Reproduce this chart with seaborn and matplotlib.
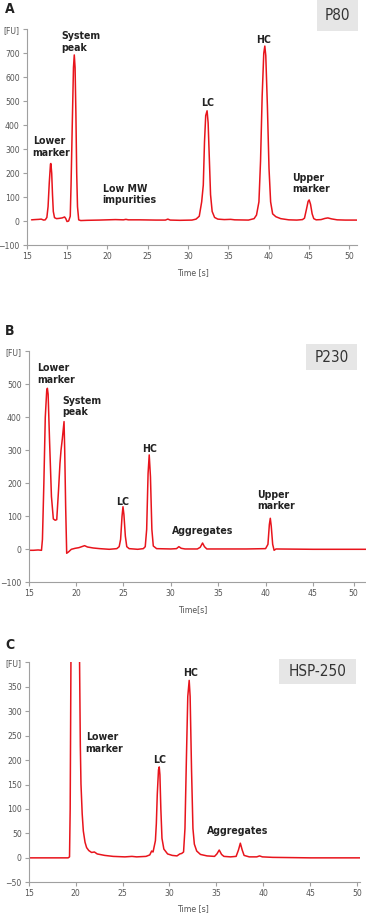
import numpy as np
import pandas as pd
import seaborn as sns
import matplotlib.pyplot as plt
from matplotlib.patches import Rectangle

sns.set_style("ticks")
plt.rcParams['font.family'] = ['DejaVu Sans']
plt.rcParams['font.stretch'] = 'condensed'

RED = "#e8141c"
GREY_TXT = "#555555"
SPINE = "#a0a0a0"

# ---- Panel A (P80) trace ----
time_a = [10.6, 11.0, 11.5, 11.8, 12.1, 12.3, 12.5, 12.65, 12.8, 12.95, 13.0, 13.1, 13.2, 13.3, 13.45,
          13.7, 14.0, 14.4, 14.7, 14.85, 15.0, 15.2, 15.4, 15.5, 15.65, 15.8, 15.9, 16.0, 16.1, 16.2,
          16.3, 16.45, 16.7, 17.5, 19.0, 20.0, 21.0, 22.0, 22.3, 22.6, 24.0, 26.0, 27.2, 27.5, 27.8,
          29.0, 30.5, 31.0, 31.4, 31.7, 31.9, 32.05, 32.2, 32.37, 32.5, 32.65, 32.8, 33.0, 33.3, 33.7,
          34.5, 35.3, 35.8, 37.5, 38.2, 38.5, 38.8, 39.0, 39.2, 39.4, 39.53, 39.65, 39.85, 40.05, 40.25,
          40.5, 40.9, 41.5, 42.5, 43.5, 44.2, 44.45, 44.7, 44.9, 45.03, 45.2, 45.4, 45.6, 45.9, 46.5,
          47.0, 47.35, 47.8, 48.5, 49.5, 51.0]
fu_a = [5, 6, 7, 8, 4, 5, 15, 60, 160, 238, 240, 200, 110, 40, 14,
        10, 11, 13, 17, 10, -2, 0, 20, 150, 400, 640, 693, 640, 450, 200,
        60, 5, 2, 3, 4, 5, 6, 5, 7, 5, 5, 4, 4, 8, 4,
        3, 4, 8, 20, 80, 150, 330, 440, 460, 410, 260, 110, 40, 15, 8,
        6, 7, 5, 4, 10, 25, 80, 250, 520, 700, 730, 690, 480, 220, 80,
        30, 18, 10, 5, 4, 6, 12, 50, 82, 88, 70, 30, 10, 5, 6,
        11, 13, 9, 5, 4, 4]

# ---- Panel B (P230) ----
time_b = [15.0, 15.5, 16.0, 16.35, 16.45, 16.6, 16.75, 16.9, 16.97, 17.05, 17.2, 17.4, 17.6, 17.8,
          17.96, 18.15, 18.3, 18.41, 18.55, 18.73, 18.8, 18.9, 19.01, 19.2, 19.5, 19.9, 20.3, 20.6,
          20.9, 21.2, 21.8, 22.5, 23.5, 24.3, 24.55, 24.7, 24.85, 24.95, 25.05, 25.2, 25.35, 25.6,
          26.5, 27.1, 27.3, 27.45, 27.6, 27.72, 27.85, 28.0, 28.15, 28.5, 30.0, 30.6, 30.85, 31.1,
          31.5, 32.8, 33.1, 33.35, 33.55, 33.8, 35.0, 38.0, 40.0, 40.25, 40.4, 40.5, 40.6, 40.75,
          40.9, 41.1, 45.0, 50.6]
fu_b = [-3, -3, -2, -3, 30, 200, 400, 480, 488, 470, 330, 160, 92, 88,
        90, 180, 260, 300, 335, 387, 300, 130, -12, -8, 0, 3, 5, 8,
        11, 7, 4, 2, 0, 2, 8, 30, 100, 129, 105, 40, 8, 2,
        0, 2, 8, 60, 230, 286, 220, 60, 10, 2, 1, 2, 8, 3,
        1, 1, 6, 19, 8, 1, 1, 1, 2, 15, 75, 94, 70, 15,
        -3, 1, 0, 0]

# ---- Panel C (HSP-250); lower marker runs off scale ----
time_c = [15.0, 19.2, 19.35, 19.42, 19.5, 19.6, 19.95, 20.3, 20.42, 20.5, 20.57, 20.7, 20.82, 21.0,
          21.17, 21.4, 21.7, 22.0, 22.3, 23.1, 24.0, 25.25, 26.0, 26.5, 27.5, 27.9, 28.1, 28.25,
          28.5, 28.6, 28.7, 28.83, 28.91, 28.98, 29.08, 29.2, 29.4, 29.8, 30.3, 30.8, 31.1, 31.3,
          31.5, 31.65, 31.8, 31.95, 32.1, 32.2, 32.35, 32.5, 32.65, 32.9, 33.3, 34.0, 34.8, 35.05,
          35.3, 35.55, 35.8, 36.5, 37.1, 37.35, 37.55, 37.75, 37.95, 38.5, 39.3, 39.6, 39.9, 41.0,
          45.0, 50.3]
fu_c = [0, 0, 2, 100, 400, 900, 1500, 900, 400, 230, 151, 90, 55, 32,
        21, 15, 11, 12, 8, 5, 3, 2, 3, 2, 3, 6, 14, 12,
        35, 70, 130, 180, 186, 170, 100, 40, 18, 8, 5, 4, 8, 9,
        12, 60, 200, 330, 363, 330, 180, 60, 28, 14, 7, 4, 3, 8,
        16, 7, 3, 2, 3, 16, 30, 16, 5, 2, 2, 4, 2, 1,
        0, 0]

# x ticks / labels as printed on each panel
xticks_a = [10, 15, 20, 25, 30, 35, 40, 45, 50]
xlabels_a = ["15", "15", "20", "25", "30", "35", "40", "45", "50"]
xticks_b = [15, 20, 25, 30, 35, 40, 45, 49.3]
xlabels_b = ["15", "20", "25", "30", "35", "40", "45", "50"]
xticks_c = [15, 20, 25, 30, 35, 40, 45, 50]
xlabels_c = ["15", "20", "25", "30", "35", "40", "45", "50"]

yticks_a = [-100, 0, 100, 200, 300, 400, 500, 600, 700, 800]
yticks_b = [-100, 0, 100, 200, 300, 400, 500, 600]
yticks_c = [-50, 0, 50, 100, 150, 200, 250, 300, 350, 400]

labels_a = [("Lower\nmarker", 10.74, 355), ("System\npeak", 14.34, 793), ("Low MW\nimpurities", 19.43, 155),
            ("LC", 31.6, 515), ("HC", 38.5, 776), ("Upper\nmarker", 42.95, 202)]
labels_b = [("Lower\nmarker", 15.91, 564), ("System\npeak", 18.59, 465), ("LC", 24.22, 159),
            ("HC", 26.93, 319), ("Aggregates", 30.13, 71), ("Upper\nmarker", 39.14, 180)]
labels_c = [("Lower\nmarker", 21.07, 257), ("LC", 28.27, 211), ("HC", 31.46, 388), ("Aggregates", 34.02, 65)]

W, H = 366, 915
fig = plt.figure(figsize=(W / 100, H / 100), dpi=100)


def px_rect(x0, y0, x1, y1):
    return [x0 / W, 1 - y1 / H, (x1 - x0) / W, (y1 - y0) / H]


panels = [
    dict(rect=px_rect(26.7, 29.3, 357.3, 245), t=time_a, v=fu_a, xlim=(10, 51.0), ylim=(-100, 800),
         xt=xticks_a, xl=xlabels_a, yt=yticks_a, lab=labels_a, xlabel="Time [s]", xlab_y=273,
         letter="A", letter_y=2, box=(317, 0, 358, 31), name="P80"),
    dict(rect=px_rect(28.7, 351.3, 366, 582.3), t=time_b, v=fu_b, xlim=(15, 50.6), ylim=(-100, 600),
         xt=xticks_b, xl=xlabels_b, yt=yticks_b, lab=labels_b, xlabel="Time[s]", xlab_y=610,
         letter="B", letter_y=324, box=(306, 344, 357, 370), name="P230"),
    dict(rect=px_rect(28.7, 662.3, 360, 882.3), t=time_c, v=fu_c, xlim=(15, 50.3), ylim=(-50, 400),
         xt=xticks_c, xl=xlabels_c, yt=yticks_c, lab=labels_c, xlabel="Time [s]", xlab_y=909,
         letter="C", letter_y=638, box=(279, 659, 356, 684), name="HSP-250"),
]

for p in panels:
    ax = fig.add_axes(p["rect"])
    df = pd.DataFrame({"time": p["t"], "fu": p["v"]})
    sns.lineplot(data=df, x="time", y="fu", ax=ax, color=RED, lw=1.1, estimator=None)
    ax.set_xlim(*p["xlim"])
    ax.set_ylim(*p["ylim"])
    ax.set_xticks(p["xt"])
    ax.set_xticklabels(p["xl"])
    ax.set_yticks(p["yt"])
    ylabs = [str(v).replace("-", "\u2212") for v in p["yt"][:-1]] + ["[FU]"]
    ax.set_yticklabels(ylabs)
    ax.set_xlabel("")
    ax.set_ylabel("")
    for s in ["top", "right"]:
        ax.spines[s].set_visible(False)
    for s in ["left", "bottom"]:
        ax.spines[s].set_color(SPINE)
        ax.spines[s].set_linewidth(0.8)
    ax.tick_params(axis="both", colors=SPINE, labelcolor=GREY_TXT, labelsize=6.2,
                   length=3, width=0.8, pad=2)
    for txt, x, y in p["lab"]:
        ax.text(x, y, txt, ha="left", va="top", fontsize=7.6, fontweight="bold",
                color="#222222", linespacing=1.2)
    fig.text(193 / W, 1 - p["xlab_y"] / H, p["xlabel"], ha="center", va="center",
             fontsize=6.3, color=GREY_TXT)
    fig.text(5 / W, 1 - p["letter_y"] / H, p["letter"], ha="left", va="top",
             fontsize=10, fontweight="bold", color="#222222")
    bx0, by0, bx1, by1 = p["box"]
    fig.add_artist(Rectangle((bx0 / W, 1 - by1 / H), (bx1 - bx0) / W, (by1 - by0) / H,
                             transform=fig.transFigure, facecolor="#e6e6e6", edgecolor="none"))
    fig.text((bx0 + bx1) / 2 / W, 1 - (by0 + by1) / 2 / H, p["name"], ha="center", va="center",
             fontsize=11, color="#333333")

fig.savefig("out.png", dpi=100)
